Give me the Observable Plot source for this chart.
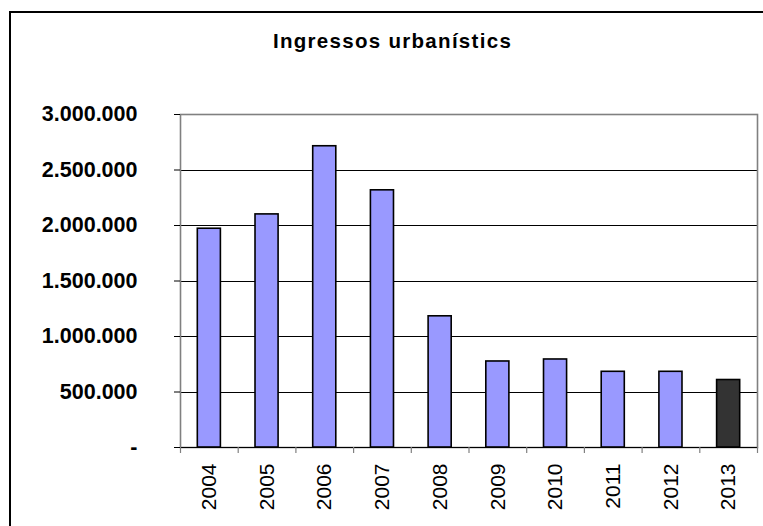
<!DOCTYPE html>
<html>
<head>
<meta charset="utf-8">
<script src="https://cdn.jsdelivr.net/npm/d3@7"></script>
<script src="https://cdn.jsdelivr.net/npm/@observablehq/plot@0.6"></script>
<style>
  html, body { margin: 0; padding: 0; background: #ffffff; }
  #chart { position: relative; width: 763px; height: 526px; overflow: hidden; background: #ffffff; }
</style>
</head>
<body>
<div id="chart"></div>
<script>
// ---- Data ----
const years = ["2004", "2005", "2006", "2007", "2008", "2009", "2010", "2011", "2012", "2013"];
const values = [1971000, 2100000, 2714000, 2317000, 1182000, 775000, 793000, 682000, 682000, 608000];
const highlightYear = "2013";
const yTicks = [0, 500000, 1000000, 1500000, 2000000, 2500000, 3000000];
const titleText = "Ingressos urbanístics";
const barColor = "#9999FF";
const highlightColor = "#333333";

// ---- Layout ----
const W = 763, H = 526;
const mL = 180, mR = 6, mT = 114, mB = 79;
const step = (W - mL - mR) / years.length;
const font = "'Liberation Sans', Arial, Helvetica, sans-serif";

const data = years.map((year, i) => ({year, value: values[i]}));
const fmt = (d) => d === 0 ? "-" : d3.format(",")(d).replace(/,/g, ".");

const chart = Plot.plot({
  width: W,
  height: H,
  marginLeft: mL,
  marginRight: mR,
  marginTop: mT,
  marginBottom: mB,
  style: {fontFamily: font, color: "#000000", background: "#ffffff", overflow: "visible"},
  x: {type: "band", domain: years, paddingInner: 0.6, paddingOuter: 0.3, round: false, axis: null},
  y: {domain: [0, 3000000], axis: null},
  marks: [
    Plot.ruleY(yTicks.filter(d => d > 0 && d < 3000000), {stroke: "#000000", strokeWidth: 1, shapeRendering: "crispEdges"}),
    Plot.frame({stroke: "#808080", strokeWidth: 1.6}),
    Plot.barY(data, {
      x: "year",
      y: "value",
      fill: d => d.year === highlightYear ? highlightColor : barColor,
      stroke: "#000000",
      strokeWidth: 1.6
    }),
    Plot.ruleY([0], {stroke: "#000000", strokeWidth: 1.2}),
    // category boundary ticks below the axis
    Plot.ruleX(years, {x: d => d, dx: -step / 2, y1: 0, y2: 0, insetBottom: -6, stroke: "#808080", strokeWidth: 1.2}),
    Plot.ruleX([years[years.length - 1]], {x: d => d, dx: step / 2, y1: 0, y2: 0, insetBottom: -6, stroke: "#808080", strokeWidth: 1.2}),
    Plot.axisY({
      ticks: yTicks,
      tickFormat: fmt,
      tickSize: 6,
      tickPadding: 37,
      fontSize: 21.5,
      fontWeight: "bold",
      stroke: "#000000",
      label: null
    }),
    Plot.axisX({
      tickSize: 0,
      tickRotate: -90,
      tickPadding: 16,
      fontSize: 21,
      label: null
    })
  ]
});

const svg = d3.select(chart);
// Outer chart-area border (extends beyond the picture on the right and bottom)
svg.insert("rect", ":first-child")
  .attr("x", 10).attr("y", 12)
  .attr("width", 800).attr("height", 600)
  .attr("fill", "none").attr("stroke", "#000000").attr("stroke-width", 2);
// Title
svg.append("text")
  .attr("x", 392.5).attr("y", 47.5)
  .attr("text-anchor", "middle")
  .attr("font-family", font)
  .attr("font-size", 20.5)
  .attr("font-weight", "bold")
  .attr("letter-spacing", "1.3px")
  .attr("fill", "#000000")
  .text(titleText);

document.getElementById("chart").appendChild(chart);
</script>
</body>
</html>
